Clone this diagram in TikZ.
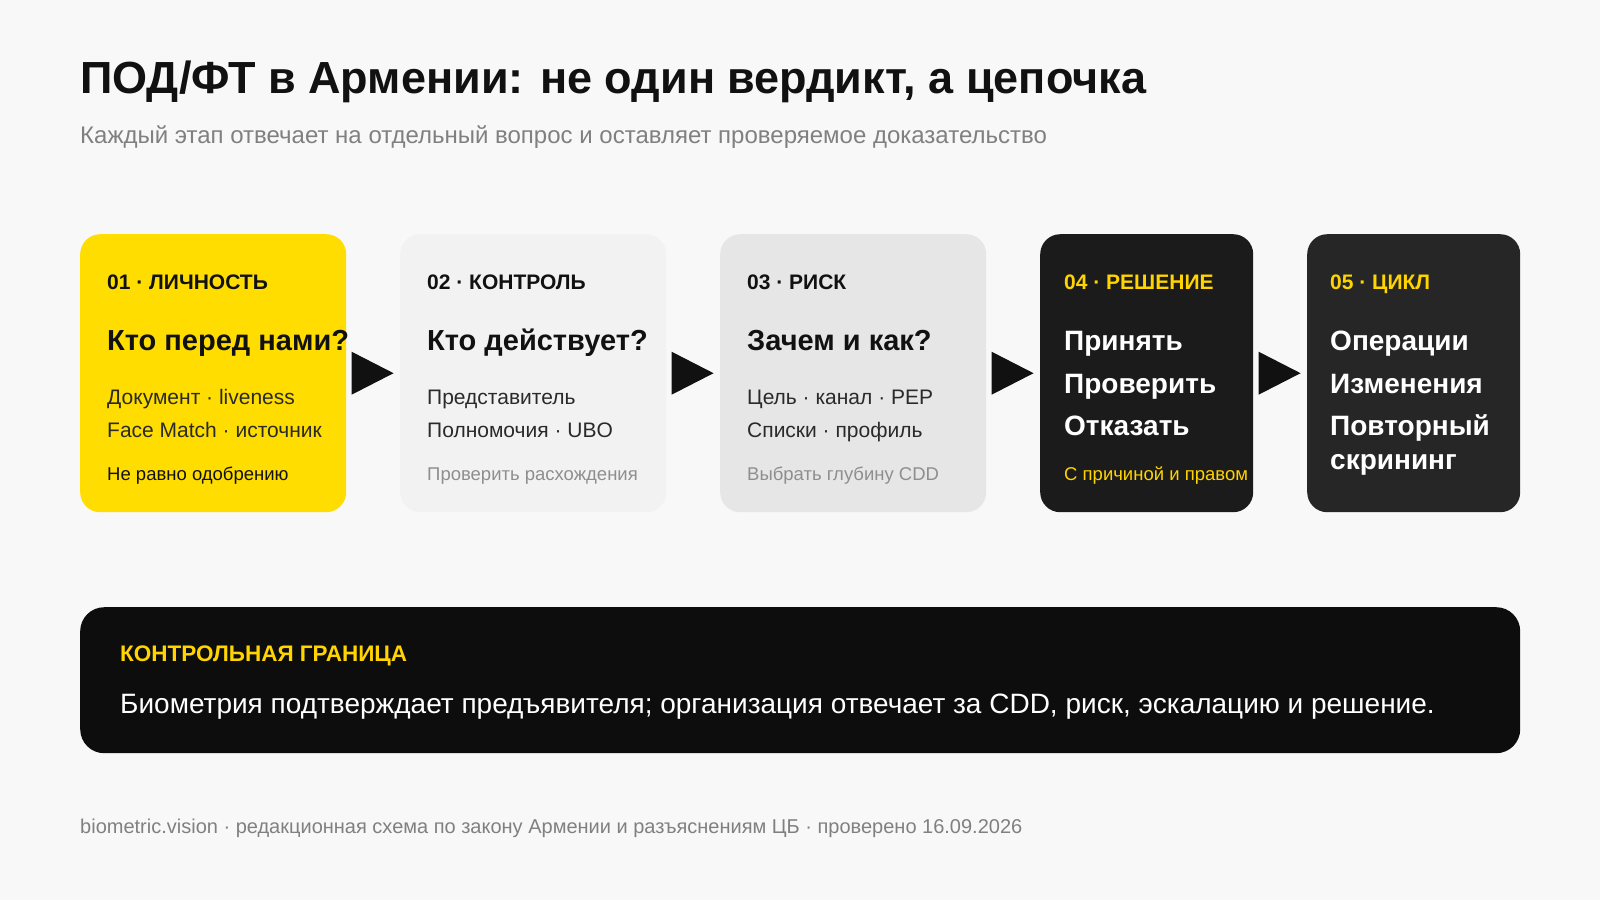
\documentclass[tikz,border=0pt]{standalone}
\usepackage{fontspec}
\setmainfont{Liberation Sans}
\usetikzlibrary{shapes.geometric,calc}
\definecolor{pagebg}{HTML}{F8F8F8}
\definecolor{ink}{HTML}{111111}
\definecolor{soft}{HTML}{2A2A2A}
\definecolor{muted}{HTML}{808080}
\definecolor{hint}{HTML}{8E8E8E}
\definecolor{sun}{HTML}{FFDD00}
\definecolor{gold}{HTML}{FFD400}
\definecolor{pale}{HTML}{F2F2F2}
\definecolor{mist}{HTML}{E6E6E6}
\definecolor{coal}{HTML}{1B1B1B}
\definecolor{slate}{HTML}{262626}
\definecolor{night}{HTML}{0D0D0D}
\begin{document}
\begin{tikzpicture}[x=1pt,y=-1pt,
  card/.style={rounded corners=20pt,inner sep=0pt,anchor=north west,minimum height=278pt},
  txt/.style={inner sep=0pt,anchor=base west},
  tag/.style={txt,font=\fontsize{21}{25}\selectfont\bfseries},
  ask/.style={txt,font=\fontsize{29}{34}\selectfont\bfseries},
  pick/.style={txt,font=\fontsize{28}{33}\selectfont\bfseries,text=white},
  item/.style={txt,font=\fontsize{21}{25}\selectfont,text=soft},
  note/.style={txt,font=\fontsize{18.5}{22}\selectfont},
  tri/.style={isosceles triangle,isosceles triangle stretches,fill=ink,inner sep=0pt,
    minimum width=43pt,minimum height=42pt,anchor=apex}]
\useasboundingbox (0,0) rectangle (1600,900);
\fill[pagebg] (0,0) rectangle (1600,900);
\node[txt,font=\fontsize{45}{52}\selectfont\bfseries,text=ink] (title) at (80,93) {ПОД/ФТ в Армении: не один вердикт, а цепочка};
\node[txt,font=\fontsize{24}{28}\selectfont,text=muted] (sub) at (80,143) {Каждый этап отвечает на отдельный вопрос и оставляет проверяемое доказательство};
\node[card,fill=sun,minimum width=266pt] (b1) at (80,234) {};
\node[card,fill=pale,minimum width=266pt] (b2) at (400,234) {};
\node[card,fill=mist,minimum width=266pt] (b3) at (720,234) {};
\node[card,fill=coal,minimum width=213pt] (b4) at (1040,234) {};
\node[card,fill=slate,minimum width=213pt] (b5) at (1307,234) {};
\node[tri] (a12) at ($(b1.east)!0.89!(b2.west)$) {};
\node[tri] (a23) at ($(b2.east)!0.89!(b3.west)$) {};
\node[tri] (a34) at ($(b3.east)!0.89!(b4.west)$) {};
\node[tri] (a45) at ($(b4.east)!0.89!(b5.west)$) {};
\node[tag,text=ink] (h1) at (107,289) {01 · ЛИЧНОСТЬ};
\node[ask,text=ink] (q1) at (107,350) {Кто перед нами?};
\node[item] (l1a) at (107,404) {Документ · liveness};
\node[item] (l1b) at (107,437) {Face Match · источник};
\node[note,text=ink] (n1) at (107,480) {Не равно одобрению};
\node[tag,text=ink] (h2) at (427,289) {02 · КОНТРОЛЬ};
\node[ask,text=ink] (q2) at (427,350) {Кто действует?};
\node[item] (l2a) at (427,404) {Представитель};
\node[item] (l2b) at (427,437) {Полномочия · UBO};
\node[note,text=hint] (n2) at (427,480) {Проверить расхождения};
\node[tag,text=ink] (h3) at (747,289) {03 · РИСК};
\node[ask,text=ink] (q3) at (747,350) {Зачем и как?};
\node[item] (l3a) at (747,404) {Цель · канал · PEP};
\node[item] (l3b) at (747,437) {Списки · профиль};
\node[note,text=hint] (n3) at (747,480) {Выбрать глубину CDD};
\node[tag,text=gold] (h4) at (1064,289) {04 · РЕШЕНИЕ};
\node[pick] (l4a) at (1064,350) {Принять};
\node[pick] (l4b) at (1064,393) {Проверить};
\node[pick] (l4c) at (1064,435) {Отказать};
\node[note,text=gold] (n4) at (1064,480) {С причиной и правом};
\node[tag,text=gold] (h5) at (1330,289) {05 · ЦИКЛ};
\node[pick] (l5a) at (1330,350) {Операции};
\node[pick] (l5b) at (1330,393) {Изменения};
\node[pick] (l5c) at (1330,435) {Повторный};
\node[pick] (l5d) at (1330,469) {скрининг};
\node[card,fill=night,rounded corners=24pt,minimum width=1440pt,minimum height=146pt] (b6) at (80,607) {};
\node[tag,text=gold,font=\fontsize{22.5}{26}\selectfont\bfseries] (h6) at (120,661) {КОНТРОЛЬНАЯ ГРАНИЦА};
\node[txt,font=\fontsize{28}{32}\selectfont,text=white] (m6) at (120,713) {Биометрия подтверждает предъявителя; организация отвечает за CDD, риск, эскалацию и решение.};
\node[note,text=muted,font=\fontsize{20}{24}\selectfont] (foot) at (80,833) {biometric.vision · редакционная схема по закону Армении и разъяснениям ЦБ · проверено 16.09.2026};
\end{tikzpicture}
\end{document}
